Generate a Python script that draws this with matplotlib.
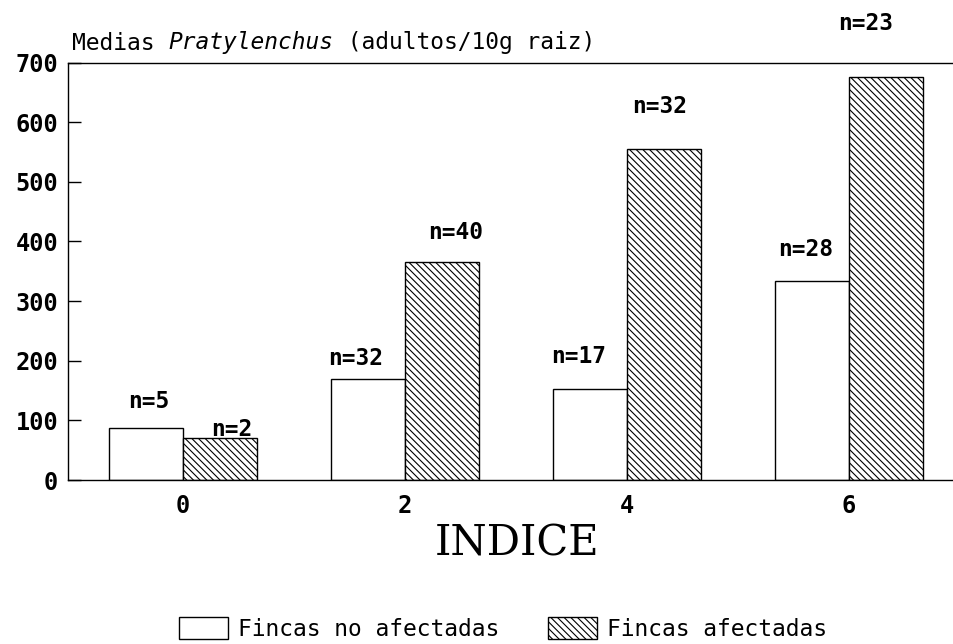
import matplotlib
matplotlib.use("Agg")
import matplotlib.pyplot as plt
import numpy as np

# ---- data ----
categories = ["0", "2", "4", "6"]
no_afectadas = [88, 169, 152, 334]
afectadas = [70, 366, 555, 676]
n_no_afectadas = ["n=5", "n=32", "n=17", "n=28"]
n_afectadas = ["n=2", "n=40", "n=32", "n=23"]
series_labels = ["Fincas no afectadas", "Fincas afectadas"]
title_parts = ["Medias ", "Pratylenchus", " (adultos/10g raiz)"]
xlabel = "INDICE"
yticks = [0, 100, 200, 300, 400, 500, 600, 700]

# label offsets (pixels) from bar top center
off_no = [(3, 26), (-12, 21), (-11, 33), (-6, 31)]
off_af = [(12, 9), (14, 29), (-4, 42), (-20, 53)]

MONO = "DejaVu Sans Mono"
plt.rcParams["hatch.linewidth"] = 0.8
plt.rcParams["font.family"] = [MONO]

fig = plt.figure(figsize=(9.54, 6.44), dpi=100)
ax = fig.add_axes([68 / 954, 1 - 480 / 644, 1 - 68 / 954, (480 - 62.5) / 644])

x = np.arange(len(categories))
w = 1 / 3
b1 = ax.bar(x - w / 2, no_afectadas, width=w, facecolor="white", edgecolor="black",
            linewidth=1.0, label=series_labels[0])
b2 = ax.bar(x + w / 2, afectadas, width=w, facecolor="white", edgecolor="black",
            linewidth=1.0, hatch="\\\\\\\\\\", label=series_labels[1])

for rect, txt, (dx, dy) in zip(b1, n_no_afectadas, off_no):
    ax.annotate(txt, (rect.get_x() + rect.get_width() / 2, rect.get_height()),
                xytext=(dx, dy), textcoords="offset pixels", ha="center", va="center",
                fontsize=16.5, fontweight="bold", family=MONO)
for rect, txt, (dx, dy) in zip(b2, n_afectadas, off_af):
    ax.annotate(txt, (rect.get_x() + rect.get_width() / 2, rect.get_height()),
                xytext=(dx, dy), textcoords="offset pixels", ha="center", va="center",
                fontsize=16.5, fontweight="bold", family=MONO)

ax.set_xlim(-0.518, 3.473)
ax.set_ylim(0, 700)
ax.set_yticks(yticks)
ax.set_yticklabels([str(v) for v in yticks], fontsize=17, fontweight="bold", family=MONO)
ax.set_xticks(x)
ax.set_xticklabels(categories, fontsize=17, fontweight="bold", family=MONO)
ax.tick_params(axis="y", direction="in", length=9, width=1.0, pad=7)
ax.tick_params(axis="x", length=0, pad=10)
ax.spines["right"].set_visible(False)
for s in ["left", "top", "bottom"]:
    ax.spines[s].set_linewidth(1.0)

# title pieces (monospace -> constant advance)
fs_title = 16.5
cw = 0.602 * fs_title * 100 / 72  # pixels per char
x0 = 72 / 954
y0 = 1 - 43 / 644
pos = 0
styles = ["normal", "italic", "normal"]
for part, st in zip(title_parts, styles):
    fig.text(x0 + pos * cw / 954, y0, part, fontsize=fs_title, style=st,
             family=MONO, ha="left", va="center")
    pos += len(part)

fig.text(517 / 954, 1 - 543 / 644, xlabel, fontsize=30, family="DejaVu Serif",
         ha="center", va="center")

leg = fig.legend(handles=[b1, b2], labels=series_labels, loc="center",
                 bbox_to_anchor=(503 / 954, 1 - 629 / 644), ncol=2, frameon=False,
                 prop={"family": MONO, "size": 16.5}, handlelength=2.15, handleheight=1.05,
                 handletextpad=0.45, columnspacing=2.1)

fig.savefig("out.png", dpi=100)
